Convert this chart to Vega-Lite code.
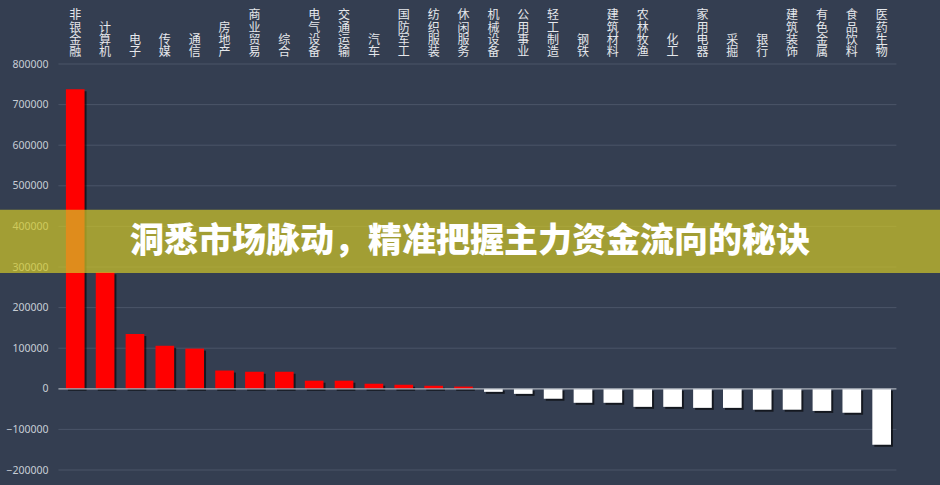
{
  "$schema": "https://vega.github.io/schema/vega-lite/v6.json",
  "width": 940,
  "height": 406,
  "autosize": "none",
  "padding": {"top": 64, "left": 0, "right": 0, "bottom": 15},
  "background": "#343e51",
  "config": {"view": {"stroke": null}, "font": "Noto Sans CJK SC"},
  "datasets": {
    "flows": [
      {"industry": "非银金融", "value": 738000},
      {"industry": "计算机", "value": 287000},
      {"industry": "电子", "value": 135000},
      {"industry": "传媒", "value": 106000},
      {"industry": "通信", "value": 99000},
      {"industry": "房地产", "value": 45000},
      {"industry": "商业贸易", "value": 42000},
      {"industry": "综合", "value": 42000},
      {"industry": "电气设备", "value": 20000},
      {"industry": "交通运输", "value": 20000},
      {"industry": "汽车", "value": 12500},
      {"industry": "国防军工", "value": 10000},
      {"industry": "纺织服装", "value": 7500},
      {"industry": "休闲服务", "value": 5500},
      {"industry": "机械设备", "value": -7500},
      {"industry": "公用事业", "value": -12500},
      {"industry": "轻工制造", "value": -24500},
      {"industry": "钢铁", "value": -34500},
      {"industry": "建筑材料", "value": -34500},
      {"industry": "农林牧渔", "value": -44500},
      {"industry": "化工", "value": -44500},
      {"industry": "家用电器", "value": -47000},
      {"industry": "采掘", "value": -47000},
      {"industry": "银行", "value": -51500},
      {"industry": "建筑装饰", "value": -51500},
      {"industry": "有色金属", "value": -54500},
      {"industry": "食品饮料", "value": -59000},
      {"industry": "医药生物", "value": -138000}
    ],
    "grid": [
      {"v": -200000}, {"v": -100000}, {"v": 100000}, {"v": 200000}, {"v": 300000},
      {"v": 400000}, {"v": 500000}, {"v": 600000}, {"v": 700000}, {"v": 800000}
    ],
    "banner": [{"title": "洞悉市场脉动，精准把握主力资金流向的秘诀"}]
  },
  "layer": [
    {
      "layer": [
        {
          "data": {"name": "grid"},
          "mark": {"type": "rule", "color": "#4a5468", "strokeWidth": 1},
          "encoding": {
            "y": {"field": "v", "type": "quantitative", "title": null},
            "x": {"datum": "非银金融", "type": "nominal", "bandPosition": -0.4, "title": null},
            "x2": {"datum": "医药生物", "bandPosition": 1.29}
          }
        },
        {
          "data": {"name": "flows"},
          "mark": {"type": "bar", "color": "#000000", "opacity": 0.6, "xOffset": 2, "x2Offset": 2, "yOffset": 2, "y2Offset": 2},
          "encoding": {
            "x": {"field": "industry", "type": "nominal", "sort": null, "title": null},
            "y": {"field": "value", "type": "quantitative", "title": null}
          }
        },
        {
          "data": {"name": "flows"},
          "mark": {"type": "bar"},
          "encoding": {
            "x": {
              "field": "industry", "type": "nominal", "sort": null, "title": null,
              "scale": {
                "domain": ["非银金融","计算机","电子","传媒","通信","房地产","商业贸易","综合","电气设备","交通运输","汽车","国防军工","纺织服装","休闲服务","机械设备","公用事业","轻工制造","钢铁","建筑材料","农林牧渔","化工","家用电器","采掘","银行","建筑装饰","有色金属","食品饮料","医药生物"],
                "range": [60.3, 896.6],
                "paddingInner": 0.375, "paddingOuter": 0.1875, "align": 0.5
              },
              "axis": null
            },
            "y": {
              "field": "value", "type": "quantitative", "title": null,
              "scale": {"domain": [-200000, 800000], "nice": false, "zero": false},
              "axis": {
                "values": [-200000, -100000, 0, 100000, 200000, 300000, 400000, 500000, 600000, 700000, 800000],
                "format": "d", "grid": false, "domain": false, "ticks": false, "tickSize": 0,
                "offset": -52, "labelPadding": 4, "labelFontSize": 10.5, "labelFont": "Noto Sans",
                "labelColor": "#c8cdd5", "labelAlign": "right", "labelBaseline": "middle"
              }
            },
            "color": {
              "condition": {"test": "datum.value > 0", "value": "#ff0000"},
              "value": "#ffffff"
            }
          }
        },
        {
          "data": {"name": "banner"},
          "mark": {"type": "rule", "color": "#a9afb9", "strokeWidth": 1.2},
          "encoding": {
            "y": {"datum": 0, "type": "quantitative", "title": null},
            "x": {"datum": "非银金融", "type": "nominal", "bandPosition": -0.4, "title": null},
            "x2": {"datum": "医药生物", "bandPosition": 1.29}
          }
        },
        {
          "data": {"name": "banner"},
          "mark": {"type": "rect", "color": "#d2c828", "opacity": 0.7},
          "encoding": {
            "y": {"datum": 441000, "type": "quantitative", "title": null},
            "y2": {"datum": 285000}
          }
        },
        {
          "data": {"name": "banner"},
          "mark": {"type": "text", "fontSize": 34, "fontWeight": 900, "color": "#ffffff", "font": "Noto Sans CJK SC", "align": "center", "baseline": "middle"},
          "encoding": {
            "y": {"datum": 362000, "type": "quantitative", "title": null},
            "text": {"field": "title"}
          }
        }
      ]
    },
    {
      "data": {"name": "flows"},
      "transform": [
        {"calculate": "split(datum.industry, '')", "as": "chars"},
        {"flatten": ["chars"], "as": ["ch"]},
        {"window": [{"op": "row_number", "as": "k"}], "groupby": ["industry"]},
        {"calculate": "length(datum.industry) - datum.k", "as": "fromBottom"}
      ],
      "mark": {"type": "text", "fontSize": 12, "color": "#e6e8ec", "font": "Noto Sans CJK SC", "align": "center", "baseline": "bottom"},
      "encoding": {
        "x": {"field": "industry", "type": "nominal", "sort": null, "title": null},
        "y": {
          "field": "fromBottom", "type": "quantitative", "title": null, "axis": null,
          "scale": {"domain": [0, 4], "range": [-5, -53.8], "nice": false, "zero": false}
        },
        "text": {"field": "ch"}
      }
    }
  ],
  "resolve": {"scale": {"y": "independent"}}
}
